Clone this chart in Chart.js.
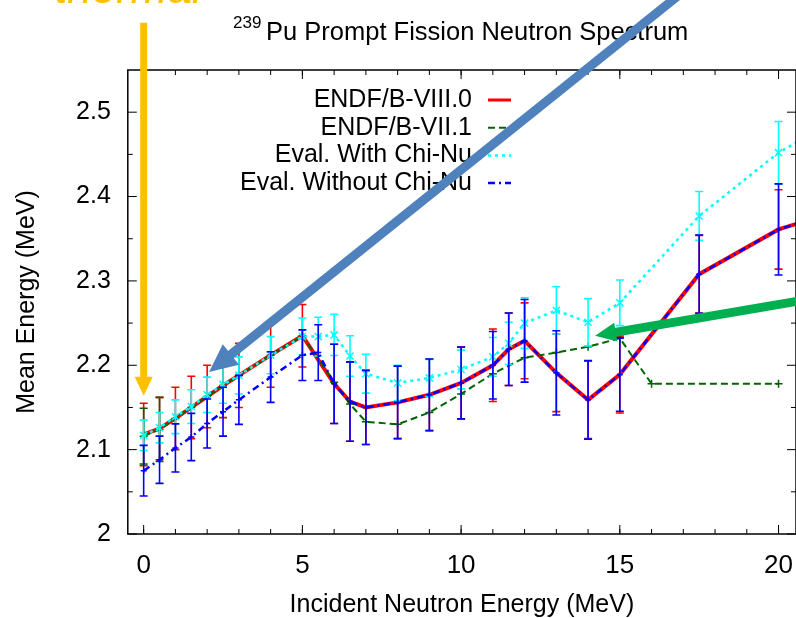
<!DOCTYPE html>
<html>
<head>
<meta charset="utf-8">
<script src="https://cdn.jsdelivr.net/npm/chart.js@4/dist/chart.umd.min.js"></script>
<style>
  html,body{margin:0;padding:0;background:#fff}
  #wrap{width:796px;height:618px;position:relative}
</style>
</head>
<body>
<div id="wrap"><canvas id="c" width="796" height="618"></canvas></div>
<script>
/* 239Pu PFNS mean energy vs incident energy, gnuplot-style, with slide arrows */
const FONT = '"Liberation Sans", Arial, Helvetica, sans-serif';

// axes
const X_TICKS = [0, 5, 10, 15, 20];
const X_MINOR = [0,1,2,3,4,5,6,7,8,9,10,11,12,13,14,15,16,17,18,19,20];
const Y_TICKS = [2, 2.1, 2.2, 2.3, 2.4, 2.5];
const Y_MINOR = [2.05, 2.15, 2.25, 2.35, 2.45];
const Y_LABELS = ['2', '2.1', '2.2', '2.3', '2.4', '2.5'];

// ENDF/B-VIII.0
const E_VIII = [0,0.5,1,1.5,2,2.5,3,4,5,6,6.5,7,8,9,10,11,11.5,12,13,14,15,17.5,20,25];
const M_VIII = [2.118,2.125,2.137,2.150,2.163,2.176,2.188,2.212,2.235,2.178,2.157,2.150,2.156,2.165,2.179,2.200,2.219,2.229,2.191,2.159,2.189,2.308,2.361,2.42];
const D_VIII = [0.037,0.037,0.037,0.037,0.037,0.038,0.038,0.038,0.037,0.047,0.047,0.044,0.043,0.0425,0.0425,0.043,0.043,0.045,0.046,0.046,0.0455,0.046,0.047,0];

// ENDF/B-VII.1
const E_VII = [0,0.5,1,1.5,2,2.5,3,4,5,6,6.5,7,8,9,10,11,12,13,14,15,16,20];
const M_VII = [2.116,2.124,2.137,2.150,2.163,2.176,2.188,2.212,2.235,2.180,2.154,2.133,2.130,2.144,2.166,2.190,2.209,2.215,2.222,2.232,2.178,2.178];
const D_VII = [0.033,0.038,0,0,0,0,0,0,0,0,0,0,0,0,0,0,0,0,0,0,0,0];

// Eval. with Chi-Nu
const E_CHI = [0,0.5,1,1.5,2,2.5,3,4,5,5.5,6,6.5,7,8,9,10,11,11.5,12,13,14,15,17.5,20,25];
const M_CHI = [2.117,2.126,2.139,2.151,2.165,2.177,2.188,2.212,2.234,2.234,2.236,2.211,2.190,2.179,2.185,2.195,2.210,2.226,2.250,2.265,2.251,2.274,2.377,2.452,2.56];
const D_CHI = [0.018,0.018,0.020,0.020,0.021,0.022,0.022,0.022,0.022,0.023,0.0245,0.024,0.023,0.021,0.022,0.023,0.023,0.025,0.030,0.028,0.028,0.027,0.029,0.037,0];

// Eval. without Chi-Nu
const E_NOCHI = [0,0.5,1,1.5,2,2.5,3,4,5,5.5,6,6.5,7,8,9,10,11,11.5,12,13,14,15,17.5,20,25];
const M_NOCHI = [2.075,2.088,2.102,2.115,2.131,2.145,2.159,2.186,2.212,2.215,2.178,2.157,2.150,2.156,2.165,2.179,2.200,2.219,2.229,2.191,2.159,2.189,2.308,2.361,2.42];
const D_NOCHI = [0.030,0.028,0.0285,0.028,0.029,0.029,0.029,0.030,0.030,0.033,0.047,0.047,0.044,0.043,0.0425,0.0425,0.040,0.043,0.049,0.050,0.0465,0.0435,0.0465,0.054,0];

// slide annotations, tail -> tip in data units
const ARROW_THERMAL = [[0, 2.606], [0, 2.164]];
const ARROW_BLUE = [[17.1, 2.646], [2.06, 2.192]];
const ARROW_GREEN = [[21.4, 2.281], [14.22, 2.235]];

const pts = (xs, ys) => xs.map((x, i) => ({x, y: ys[i]}));
const ERRS = [D_VIII, D_VII, D_CHI, D_NOCHI];

const errorBars = {
  id: 'errorBars',
  beforeDatasetDraw(chart, args) {
    const errs = ERRS[args.index];
    const ds = chart.data.datasets[args.index];
    const {ctx, chartArea: a, scales: {x, y}} = chart;
    ctx.save();
    ctx.beginPath(); ctx.rect(a.left, a.top, a.right - a.left, a.bottom - a.top); ctx.clip();
    ctx.strokeStyle = ds.borderColor; ctx.lineWidth = 1.6;
    ds.data.forEach((p, i) => {
      const e = errs[i]; if (!e) return;
      const px = x.getPixelForValue(p.x), y1 = y.getPixelForValue(p.y - e), y2 = y.getPixelForValue(p.y + e);
      ctx.beginPath();
      ctx.moveTo(px, y1); ctx.lineTo(px, y2);
      ctx.moveTo(px - 4, y1); ctx.lineTo(px + 4, y1);
      ctx.moveTo(px - 4, y2); ctx.lineTo(px + 4, y2);
      ctx.stroke();
    });
    ctx.restore();
  }
};

const frame = {
  id: 'frame',
  afterDatasetsDraw(chart) {
    const {ctx, chartArea: a, scales: {x, y}} = chart;
    ctx.save();
    ctx.strokeStyle = '#000'; ctx.lineWidth = 1.5;
    ctx.strokeRect(a.left, a.top, a.right - a.left, a.bottom - a.top);
    ctx.lineWidth = 1;
    ctx.beginPath();
    const tx = (v, len) => { const p = x.getPixelForValue(v);
      ctx.moveTo(p, a.bottom); ctx.lineTo(p, a.bottom - len);
      ctx.moveTo(p, a.top); ctx.lineTo(p, a.top + len); };
    const ty = (v, len) => { const p = y.getPixelForValue(v);
      ctx.moveTo(a.left, p); ctx.lineTo(a.left + len, p);
      ctx.moveTo(a.right, p); ctx.lineTo(a.right - len, p); };
    X_MINOR.forEach(v => tx(v, 5)); X_TICKS.forEach(v => tx(v, 9));
    Y_MINOR.forEach(v => ty(v, 5)); Y_TICKS.forEach(v => ty(v, 9));
    ctx.stroke();
    ctx.restore();
  }
};

const keyBox = {
  id: 'keyBox',
  afterDatasetsDraw(chart) {
    const {ctx} = chart;
    ctx.save();
    ctx.font = '25px ' + FONT; ctx.textAlign = 'right'; ctx.textBaseline = 'middle'; ctx.fillStyle = '#000';
    chart.data.datasets.forEach((ds, i) => {
      const yy = 100 + i * 27.7;
      ctx.fillText(ds.label, 472, yy);
      ctx.strokeStyle = ds.borderColor; ctx.lineWidth = Math.min(ds.borderWidth, 3);
      ctx.setLineDash(ds.borderDash || []);
      ctx.beginPath(); ctx.moveTo(488, yy); ctx.lineTo(511, yy); ctx.stroke();
      ctx.setLineDash([]);
    });
    ctx.restore();
  }
};

const heading = {
  id: 'heading',
  afterDraw(chart) {
    const {ctx} = chart;
    ctx.save(); ctx.fillStyle = '#000'; ctx.textBaseline = 'alphabetic'; ctx.textAlign = 'left';
    ctx.font = '17px ' + FONT; ctx.fillText('239', 233, 28);
    ctx.font = '25.5px ' + FONT; ctx.fillText('Pu Prompt Fission Neutron Spectrum', 266, 40);
    ctx.restore();
  }
};

function arrow(ctx, x0, y0, x1, y1, color, w, headLen, headW) {
  const ang = Math.atan2(y1 - y0, x1 - x0), c = Math.cos(ang), s = Math.sin(ang);
  const bx = x1 - c * headLen, by = y1 - s * headLen;
  ctx.strokeStyle = color; ctx.fillStyle = color; ctx.lineWidth = w; ctx.lineCap = 'butt';
  ctx.beginPath(); ctx.moveTo(x0, y0); ctx.lineTo(bx + c, by + s); ctx.stroke();
  ctx.beginPath(); ctx.moveTo(x1, y1);
  ctx.lineTo(bx - s * headW / 2, by + c * headW / 2);
  ctx.lineTo(bx + s * headW / 2, by - c * headW / 2);
  ctx.closePath(); ctx.fill();
}

const slideMarks = {
  id: 'slideMarks',
  afterDraw(chart) {
    const {ctx, scales: {x, y}} = chart;
    const P = ([a, b]) => [x.getPixelForValue(a), y.getPixelForValue(b)];
    ctx.save();
    let [t, h] = [P(ARROW_THERMAL[0]), P(ARROW_THERMAL[1])];
    arrow(ctx, t[0], t[1], h[0], h[1], '#FFC000', 7, 19, 18);
    [t, h] = [P(ARROW_BLUE[0]), P(ARROW_BLUE[1])];
    arrow(ctx, t[0], t[1], h[0], h[1], '#4F81BD', 9, 28, 26);
    [t, h] = [P(ARROW_GREEN[0]), P(ARROW_GREEN[1])];
    arrow(ctx, t[0], t[1], h[0], h[1], '#00B050', 9, 21, 19);
    ctx.font = 'italic 44px ' + FONT; ctx.fillStyle = '#FFC000'; ctx.textAlign = 'left'; ctx.textBaseline = 'alphabetic';
    ctx.fillText('thermal', 55, 3);
    ctx.restore();
  }
};

new Chart(document.getElementById('c'), {
  type: 'line',
  data: {
    datasets: [
      {label: 'ENDF/B-VIII.0', data: pts(E_VIII, M_VIII), borderColor: '#ff0000', borderWidth: 4, pointRadius: 0, order: 4},
      {label: 'ENDF/B-VII.1', data: pts(E_VII, M_VII), borderColor: '#006400', borderWidth: 2, borderDash: [7, 4],
        pointStyle: 'cross', pointRadius: 4, pointBorderWidth: 1.5, order: 3},
      {label: 'Eval. With Chi-Nu', data: pts(E_CHI, M_CHI), borderColor: '#00ffff', borderWidth: 2.5, borderDash: [3, 4],
        pointStyle: 'crossRot', pointRadius: 5, pointBorderWidth: 1.5, order: 2},
      {label: 'Eval. Without Chi-Nu', data: pts(E_NOCHI, M_NOCHI), borderColor: '#0000ff', borderWidth: 2.5, borderDash: [7, 4, 2, 4],
        pointStyle: 'cross', pointRadius: 3, pointBorderWidth: 1.5, order: 1}
    ]
  },
  options: {
    responsive: false, animation: false,
    layout: {autoPadding: false, padding: {top: 70, right: 0, left: 0, bottom: 0}},
    elements: {line: {tension: 0, fill: false}, point: {hoverRadius: 0}},
    datasets: {line: {clip: 0}},
    plugins: {legend: {display: false}, tooltip: {enabled: false}, title: {display: false}},
    scales: {
      x: {
        type: 'linear', min: -0.5, max: 20.55,
        afterBuildTicks: s => { s.ticks = X_TICKS.map(v => ({value: v})); },
        afterFit: s => { s.height = 84; s.paddingLeft = 0; s.paddingRight = 0; },
        grid: {display: false, drawTicks: false}, border: {display: false},
        ticks: {font: {family: FONT, size: 26}, color: '#000', padding: 16, maxRotation: 0, autoSkip: false},
        title: {display: true, text: 'Incident Neutron Energy (MeV)', color: '#000', font: {family: FONT, size: 25}, padding: {top: 0, bottom: -2}}
      },
      y: {
        type: 'linear', min: 2, max: 2.55,
        afterBuildTicks: s => { s.ticks = Y_TICKS.map(v => ({value: v})); },
        afterFit: s => { s.width = 127.8; s.paddingTop = 0; s.paddingBottom = 0; },
        grid: {display: false, drawTicks: false}, border: {display: false},
        ticks: {font: {family: FONT, size: 25}, color: '#000', padding: 17, autoSkip: false,
          callback: (v, i) => Y_LABELS[i]},
        title: {display: true, text: 'Mean Energy (MeV)', color: '#000', font: {family: FONT, size: 25}, padding: {top: 12, bottom: 0}}
      }
    }
  },
  plugins: [errorBars, frame, keyBox, heading, slideMarks]
});
</script>
</body>
</html>
